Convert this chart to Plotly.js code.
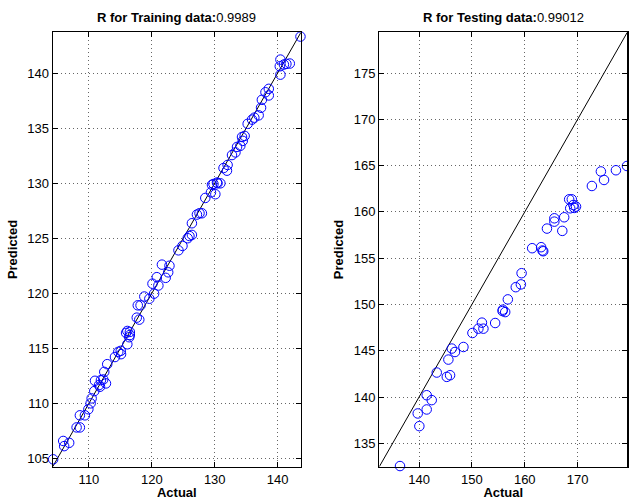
<!DOCTYPE html>
<html>
<head>
<meta charset="utf-8">
<script src="https://cdn.plot.ly/plotly-3.0.1.min.js"></script>
<style>html,body{margin:0;padding:0;background:#fff}#chart{width:629px;height:500px}</style>
</head>
<body>
<div id="chart"></div>
<script>
// Training data (Actual vs Predicted)
const trainActual = [104.3,105.9,106.05,106.85,108.03,108.55,108.55,109.35,109.9,110.26,110.42,110.84,110.95,111.6,111.9,111.75,112.27,112.7,112.43,112.9,114.13,114.66,115.05,115.1,116.1,115.9,116.5,116.4,116.1,116.5,117.6,118.0,117.76,118.2,118.8,119.6,120.36,120.1,120.79,121.04,122.2,122.6,121.6,122.8,124.23,124.87,125.7,125.98,126.37,126.37,127.17,127.58,127.96,128.5,129.4,130.1,129.8,130.45,130.9,129.56,130.36,131.4,132.05,131.95,132.75,133.3,133.55,134.07,134.34,134.76,134.46,135.24,135.94,136.3,136.99,137.37,137.5,138.07,138.6,138.6,140.45,140.45,140.35,141.0,141.94,141.4,143.64];
const trainPred   = [104.9,106.57,106.1,106.4,107.8,107.8,108.9,108.9,109.45,109.99,110.44,111.1,112.04,111.65,112.1,111.5,112.16,111.8,112.85,113.55,114.2,114.67,114.76,114.46,115.36,116.39,116.48,116.0,116.57,116.2,117.78,117.6,118.9,118.9,119.7,119.5,119.96,120.87,121.46,120.7,121.4,121.9,122.6,122.5,123.9,124.3,125.0,125.2,125.3,126.36,127.15,127.27,127.27,128.66,129.17,129.0,129.93,129.99,129.99,129.85,130.06,131.38,131.66,131.14,132.56,132.8,133.3,133.4,134.2,134.3,133.85,135.4,135.78,135.96,136.17,136.86,137.58,138.27,138.58,137.98,139.87,141.24,140.63,140.79,140.88,140.85,143.33];
// Testing data (Actual vs Predicted)
const testActual = [179.34,177.25,174.4,175.0,172.7,168.4,168.9,169.2,169.7,169.36,168.6,167.46,165.6,165.6,164.2,167.1,161.4,163.1,163.35,163.5,159.4,159.26,158.3,156.8,155.85,155.8,156.3,154.4,151.9,151.23,152.18,150.1,148.4,146.8,146.2,145.55,143.35,145.87,145.25,141.45,142.4,139.75,141.45,140.06,136.4];
const testPred   = [164.96,164.5,164.37,163.45,162.8,161.36,161.36,160.75,160.57,160.43,160.39,159.42,159.31,158.95,158.2,157.95,156.08,156.19,155.83,155.75,153.38,152.17,151.87,150.55,149.44,149.29,149.18,148.0,148.04,147.39,147.39,146.92,145.41,144.87,145.24,144.05,142.65,142.36,142.18,140.2,139.67,138.23,138.66,136.86,132.55];
// Axis limits (also used for the x = y reference line)
const trainRange = [104.23, 143.72];
const testRange  = [132.48, 179.4];
const trainTitle = '<b>R for Training data:</b>0.9989';
const testTitle  = '<b>R for Testing data:</b>0.99012';

const fontFam = 'Liberation Sans, Arial, Helvetica, sans-serif';
const marker = {symbol:'circle-open', size:9.5, color:'#0000ff', line:{width:1, color:'#0000ff'}};

const traces = [
  {x:trainRange, y:trainRange, mode:'lines', type:'scatter', line:{color:'#000', width:1}, xaxis:'x', yaxis:'y'},
  {x:trainActual, y:trainPred, mode:'markers', type:'scatter', marker:marker, cliponaxis:false, xaxis:'x', yaxis:'y'},
  {x:testRange, y:testRange, mode:'lines', type:'scatter', line:{color:'#000', width:1}, xaxis:'x2', yaxis:'y2'},
  {x:testActual, y:testPred, mode:'markers', type:'scatter', marker:marker, cliponaxis:false, xaxis:'x2', yaxis:'y2'}
];

function ax(extra){
  return Object.assign({
    showline:true, linecolor:'#000', linewidth:1.2, mirror:'ticks',
    ticks:'inside', ticklen:5, tickcolor:'#000',
    showgrid:true, gridcolor:'#666', griddash:'1px,3px', gridwidth:1,
    zeroline:false, tickfont:{family:fontFam, size:13, color:'#000'}
  }, extra);
}
const tfont = {family:fontFam, size:13, color:'#000'};

const layout = {
  width:629, height:500, showlegend:false,
  paper_bgcolor:'#fff', plot_bgcolor:'#fff',
  margin:{l:0, r:0, t:0, b:0},
  font:{family:fontFam, size:13, color:'#000'},
  xaxis: ax({domain:[0.0838,0.4785], range:trainRange, dtick:10, tick0:0, anchor:'y', title:{text:'<b>Actual</b>', font:tfont}}),
  yaxis: ax({domain:[0.0666,0.9354], range:trainRange, dtick:5, tick0:0, anchor:'x', title:{text:'<b>Predicted</b>', font:tfont}}),
  xaxis2: ax({domain:[0.603,0.9973], range:testRange, dtick:10, tick0:0, anchor:'y2', title:{text:'<b>Actual</b>', font:tfont}}),
  yaxis2: ax({domain:[0.0666,0.9354], range:testRange, dtick:5, tick0:0, anchor:'x2', title:{text:'<b>Predicted</b>', font:tfont}}),
  annotations:[
    {text:trainTitle, xref:'paper', yref:'paper', x:(0.0838+0.4785)/2, y:1-17/500, xanchor:'center', yanchor:'middle', showarrow:false, font:tfont},
    {text:testTitle, xref:'paper', yref:'paper', x:(0.603+0.9973)/2, y:1-17/500, xanchor:'center', yanchor:'middle', showarrow:false, font:tfont}
  ]
};

Plotly.newPlot('chart', traces, layout, {displayModeBar:false, staticPlot:true});
</script>
</body>
</html>
